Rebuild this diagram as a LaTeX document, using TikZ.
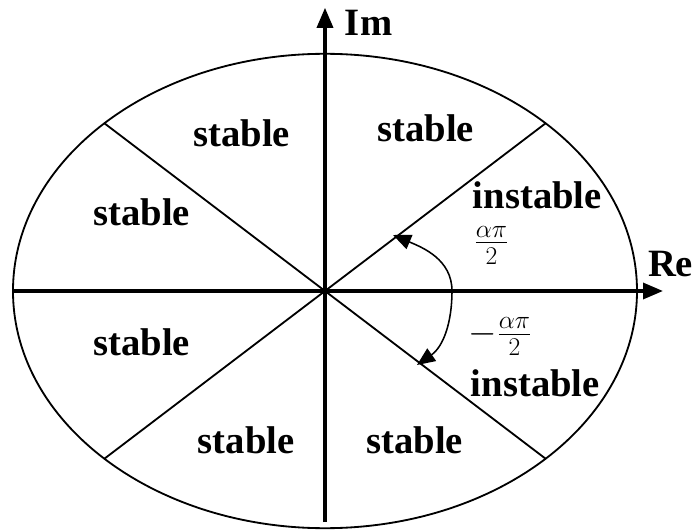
\RequirePackage{fix-cm}
\documentclass[tikz,border=0pt]{standalone}
\usepackage{fontspec}
\setmainfont{Liberation Serif}
\usetikzlibrary{arrows.meta}
\tikzset{
  zone/.style={font=\fontsize{27.5}{33}\selectfont\bfseries, inner sep=1pt},
  ratio/.style={font=\fontsize{26}{31}\selectfont, inner sep=1pt},
  axis/.style={line width=2.4pt, -{Triangle[length=0.5cm,width=0.4cm]}},
  border/.style={line width=1.3pt}
}

\begin{document}
\begin{tikzpicture}[>=Latex]
\useasboundingbox (-8.125,-6.0) rectangle (9.275,7.275);
\coordinate (O) at (0,0);

% unit circle, stretched
\draw[border] (O) ellipse [x radius=7.8cm, y radius=5.93cm];
\foreach \a/\n in {45/ne,135/nw,225/sw,315/se}
  \coordinate (\n) at ({7.8*cos(\a)},{5.93*sin(\a)});
\draw[border] (nw) -- (se);
\draw[border] (ne) -- (sw);

% axes
\coordinate (reL) at (-7.8,0);
\coordinate (reR) at (8.45,0);
\coordinate (imB) at (0,-5.775);
\coordinate (imT) at (0,7.08);
\draw[axis] (reL) -- (reR);
\draw[axis] (imB) -- (imT);
\node[zone] (re) at (8.64,0.675) {Re};
\node[zone] (im) at (1.09,6.7) {Im};

% sectors
\node[zone] (stNNW) at (-2.08,3.95) {stable};
\node[zone] (stNNE) at (2.52,4.07) {stable};
\node[zone] (stWNW) at (-4.58,1.98) {stable};
\node[zone] (inENE) at (5.31,2.4) {instable};
\node[zone] (stWSW) at (-4.58,-1.27) {stable};
\node[zone] (inESE) at (5.26,-2.3) {instable};
\node[zone] (stSSW) at (-1.97,-3.73) {stable};
\node[zone] (stSSE) at (2.24,-3.73) {stable};

% angle
\coordinate (arcU) at (1.7,1.4);
\coordinate (arcR) at (3.175,0);
\coordinate (arcD) at (2.3,-1.85);
\draw[line width=1.1pt, {Triangle[length=0.45cm,width=0.38cm]}-{Triangle[length=0.45cm,width=0.38cm]}]
  (arcU) to[out=-23,in=90] (arcR) to[out=-90,in=35] (arcD);
\node[ratio] (fracUp) at (4.16,1.15) {$\frac{\alpha\pi}{2}$};
\node[ratio] (fracDown) at (4.38,-1.14) {$-\frac{\alpha\pi}{2}$};
\end{tikzpicture}
\end{document}
